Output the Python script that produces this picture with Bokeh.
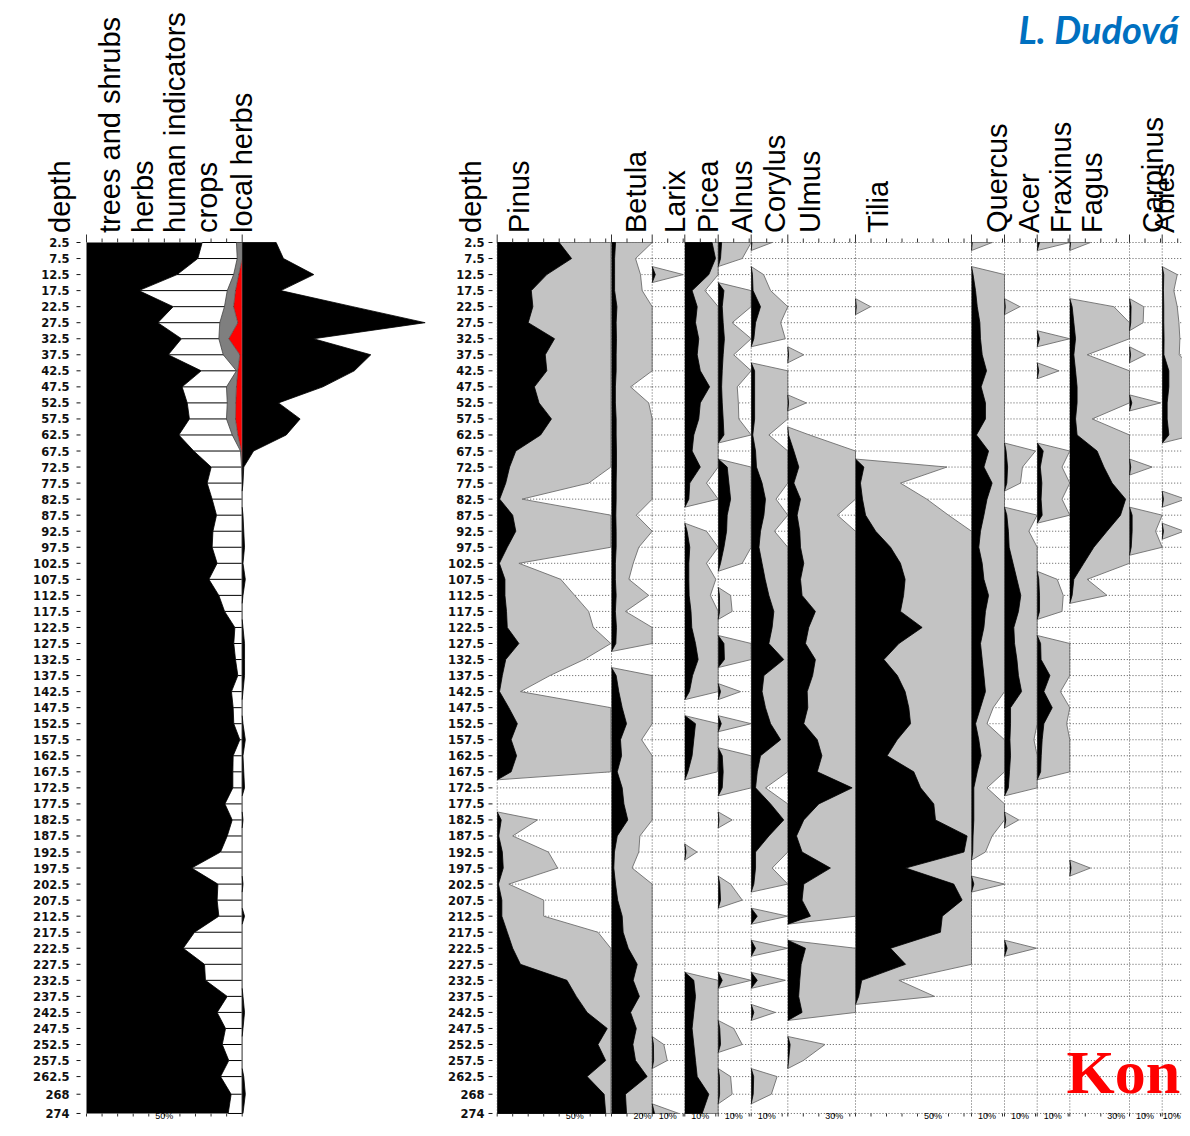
import math
import numpy as np
from bokeh.plotting import figure
from bokeh.models import Range1d
from bokeh.core.properties import value
from bokeh.embed import file_html
from bokeh.resources import INLINE

# ---------------------------------------------------------------- data
DEPTHS = [2.5, 7.5, 12.5, 17.5, 22.5, 27.5, 32.5, 37.5, 42.5, 47.5,
          52.5, 57.5, 62.5, 67.5, 72.5, 77.5, 82.5, 87.5, 92.5, 97.5,
          102.5, 107.5, 112.5, 117.5, 122.5, 127.5, 132.5, 137.5, 142.5, 147.5,
          152.5, 157.5, 162.5, 167.5, 172.5, 177.5, 182.5, 187.5, 192.5, 197.5,
          202.5, 207.5, 212.5, 217.5, 222.5, 227.5, 232.5, 237.5, 242.5, 247.5,
          252.5, 257.5, 262.5, 268, 274]
DEPTH_LABELS = ["2.5", "7.5", "12.5", "17.5", "22.5", "27.5", "32.5", "37.5", "42.5", "47.5",
                "52.5", "57.5", "62.5", "67.5", "72.5", "77.5", "82.5", "87.5", "92.5", "97.5",
                "102.5", "107.5", "112.5", "117.5", "122.5", "127.5", "132.5", "137.5", "142.5", "147.5",
                "152.5", "157.5", "162.5", "167.5", "172.5", "177.5", "182.5", "187.5", "192.5", "197.5",
                "202.5", "207.5", "212.5", "217.5", "222.5", "227.5", "232.5", "237.5", "242.5", "247.5",
                "252.5", "257.5", "262.5", "268", "274"]

# summary diagram (% of pollen sum)
TREES = [74.3, 71.5, 58.2, 33.6, 55.7, 45.8, 61.0, 52.5, 73.7, 61.4,
         64.7, 66.1, 59.3, 68.9, 80.1, 77.5, 80.7, 83.5, 81.2, 80.7,
         83.9, 78.6, 85.0, 88.7, 95.3, 94.6, 95.7, 97.2, 93.1, 94.2,
         94.6, 98.5, 94.2, 94.0, 94.0, 88.9, 93.6, 90.4, 86.1, 67.5,
         84.4, 83.9, 85.0, 69.4, 62.1, 75.8, 76.4, 90.4, 83.9, 89.3,
         87.2, 91.4, 86.1, 92.9, 91.0]
HERBS = [22.0, 25.3, 36.3, 56.8, 32.9, 39.8, 24.0, 35.3, 22.6, 28.5,
         25.7, 23.8, 34.3, 30.0, 19.5, 22.5, 19.3, 16.5, 18.8, 19.3,
         16.1, 21.4, 15.0, 11.3, 4.7, 5.4, 4.3, 2.8, 6.9, 5.8,
         5.4, 1.5, 5.8, 6.0, 6.0, 11.1, 6.4, 9.6, 13.9, 32.5,
         15.6, 16.1, 15.0, 30.6, 37.9, 24.2, 23.6, 9.6, 16.1, 10.7,
         12.8, 8.6, 13.9, 7.1, 9.0]
HUMAN = [3.7, 3.2, 3.3, 5.3, 5.9, 11.6, 6.4, 10.7, 0.9, 6.4,
         5.5, 5.8, 3.6, 0.5, 0.2, 0, 0, 0, 0, 0,
         0, 0, 0, 0, 0, 0, 0, 0, 0, 0,
         0, 0, 0, 0, 0, 0, 0, 0, 0, 0,
         0, 0, 0, 0, 0, 0, 0, 0, 0, 0,
         0, 0, 0, 0, 0]
CROPS = [0, 0, 2.2, 4.3, 5.5, 2.8, 8.6, 1.5, 2.8, 3.7,
         4.1, 4.3, 2.8, 0.6, 0.2, 0, 0, 0, 0, 0,
         0, 0, 0, 0, 0, 0, 0, 0, 0, 0,
         0, 0, 0, 0, 0, 0, 0, 0, 0, 0,
         0, 0, 0, 0, 0, 0, 0, 0, 0, 0,
         0, 0, 0, 0, 0]
LOCAL = [21.8, 26.5, 46, 24.8, 71, 117.5, 45.8, 82.6, 72, 51.8,
         23.3, 37.2, 28.3, 7.3, 1, 0.5, 0, 0.5, 1, 1.5,
         0.5, 2, 0.5, 0, 0.5, 1.5, 1.5, 1.5, 0.5, 0,
         0.5, 2, 0.5, 1, 1.5, 0, 0.5, 0, 0, 0,
         0.5, 0, 1.5, 0, 0, 0, 0, 0.5, 1.5, 0.5,
         0, 0, 1, 2, 0.5]

# taxa: B = percentage (black), G = exaggerated curve (grey); 99 = beyond the panel
PINUS_B = [40, 48, 32, 22, 23, 20, 37, 31, 32, 24,
           27, 35, 28, 12, 8, 5.5, 1.6, 10, 12, 6.5,
           1.4, 5, 5, 6, 6.5, 14, 5.5, 3.3, 1.5, 7.5,
           13, 9, 12.5, 9, 0, 0, 2.6, 1.0, 3.3, 3.9,
           0.8, 3, 3, 6.5, 10, 15, 45, 51, 58, 71,
           65, 70, 58, 69, 70]
PINUS_G = [99, 99, 99, 99, 99, 99, 99, 99, 99, 99,
           99, 99, 99, 99, 99, 59, 16, 99, 99, 99,
           14, 41, 50, 59, 62, 99, 56, 34, 15, 99,
           99, 99, 99, 99, 0, 0, 26, 10, 33, 39,
           7.5, 30, 30, 65, 99, 99, 99, 99, 99, 99,
           99, 99, 99, 99, 99]
BETULA_B = [2.6, 2, 2, 2, 3.5, 3, 3.2, 3, 3, 2.5,
            2.5, 3, 3, 3.2, 3.2, 3, 3, 2.8, 3, 3,
            2.5, 2.5, 3, 2.5, 3.2, 2.8, 0, 3, 4.7, 6.9,
            9.7, 5.8, 6.5, 3.7, 6.9, 8, 10.5, 3.7, 1.9, 1.5,
            2.6, 4, 6.9, 7.5, 10.8, 16.6, 14, 18, 12.3, 16,
            13.8, 15.5, 23, 9, 9.7]
BETULA_G = [99, 15.5, 18.7, 19.8, 99, 99, 99, 99, 99, 12.3,
            24, 99, 99, 99, 99, 99, 99, 16, 99, 17.6,
            14, 11.2, 24, 9, 99, 99, 0, 99, 99, 99,
            99, 19.4, 99, 99, 99, 99, 99, 18.3, 17.6, 13.3,
            99, 99, 99, 99, 99, 99, 99, 99, 99, 99,
            99, 99, 99, 99, 99]
LARIX_B = [0, 0, 2, 0, 0, 0, 0, 0, 0, 0,
           0, 0, 0, 0, 0, 0, 0, 0, 0, 0,
           0, 0, 0, 0, 0, 0, 0, 0, 0, 0,
           0, 0, 0, 0, 0, 0, 0, 0, 0, 0,
           0, 0, 0, 0, 0, 0, 0, 0, 0, 0,
           0.8, 0.9, 0, 0, 1.5]
LARIX_G = [0, 0, 20, 0, 0, 0, 0, 0, 0, 0,
           0, 0, 0, 0, 0, 0, 0, 0, 0, 0,
           0, 0, 0, 0, 0, 0, 0, 0, 0, 0,
           0, 0, 0, 0, 0, 0, 0, 0, 0, 0,
           0, 0, 0, 0, 0, 0, 0, 0, 0, 0,
           7.5, 9.7, 0, 0, 17.2]
PICEA_B = [17.6, 19.8, 15.5, 4.7, 8, 6.9, 9, 8, 10, 16,
           10, 9, 5.8, 4.7, 10, 3.2, 2.6, 0, 1.5, 3.2,
           2.6, 2.6, 2.8, 4, 4.5, 6.9, 8.6, 5, 3, 0,
           6.9, 5.8, 4.7, 2, 0, 0, 0, 0, 0.8, 0,
           0, 0, 0, 0, 0, 0, 5.8, 6.9, 5.8, 4.7,
           5.8, 6.9, 8, 15.5, 11.2]
PICEA_G = [99, 99, 99, 13, 99, 99, 99, 99, 99, 99,
           99, 99, 99, 99, 99, 14, 99, 0, 14, 99,
           14, 20, 16.5, 99, 99, 99, 99, 99, 99, 0,
           99, 99, 99, 21, 0, 0, 0, 0, 7.9, 0,
           0, 0, 0, 0, 0, 0, 99, 99, 99, 99,
           99, 99, 99, 99, 99]
ALNUS_B = [2.2, 1.5, 0, 3.7, 2.6, 3.2, 4, 3.2, 2.6, 2.2,
           2.6, 3.2, 3.7, 0, 5.8, 6.9, 8, 5.8, 5.4, 3.7,
           1.5, 0, 0.8, 0.9, 0, 3.7, 4, 0, 1.5, 0,
           2, 0, 2.6, 3.2, 2.6, 0, 0.5, 0, 0, 0,
           1, 1.5, 0, 0, 0, 0, 2.6, 0, 0, 1,
           1.5, 0, 0.8, 0.9, 0]
ALNUS_G = [99, 15.5, 0, 99, 99, 9, 99, 10, 99, 12.3,
           13, 13.3, 99, 0, 99, 99, 99, 99, 99, 99,
           15.5, 0, 8, 9, 0, 99, 99, 0, 14.4, 0,
           99, 0, 99, 99, 99, 0, 9, 0, 0, 0,
           8, 15.5, 0, 0, 0, 0, 99, 0, 0, 10,
           15.5, 0, 8, 9, 0]
CORYLUS_B = [0.5, 0, 0.8, 1.2, 6, 2.8, 1.7, 0, 2.2, 2.2,
             2.2, 2.2, 1, 2.8, 3.4, 7, 9.2, 8.2, 6, 5,
             7, 9, 11.4, 14.6, 13.5, 11.4, 21, 8.2, 7, 9.2,
             12.5, 19, 6, 3.9, 2.8, 12.5, 21, 11.4, 2.8, 2.8,
             1.7, 0, 3.9, 0, 2.8, 0, 3.9, 0, 1.7, 0,
             0, 0, 1.6, 1.3, 0]
CORYLUS_G = [13.5, 0, 8, 12.5, 99, 19, 22, 0, 99, 99,
             99, 99, 11.4, 99, 99, 99, 16, 99, 15, 99,
             99, 99, 99, 99, 99, 99, 99, 99, 99, 99,
             99, 99, 99, 99, 9.2, 99, 99, 99, 99, 13.5,
             99, 0, 99, 0, 99, 0, 22, 0, 15.5, 0,
             0, 0, 16.7, 13, 0]
ULMUS_B = [0, 0, 0, 0, 0, 0, 0, 0.5, 0, 0,
           0.5, 0, 0.5, 3.9, 7.1, 3.9, 8.2, 6, 7.7, 8.2,
           10.3, 8.2, 9.2, 17.8, 13.5, 11.4, 17.8, 16, 12.5, 12.9,
           10.3, 19, 22, 19, 41.5, 20, 10.3, 5.6, 9.2, 27.5,
           10.3, 9.2, 14.6, 0, 11.4, 8.6, 7.7, 7, 9.2, 0,
           1.5, 0.5, 0, 0, 0]
ULMUS_G = [0, 0, 0, 0, 0, 0, 0, 10.3, 0, 0,
           12, 0, 14, 99, 99, 99, 99, 32, 99, 99,
           99, 99, 99, 99, 99, 99, 99, 99, 99, 99,
           99, 99, 99, 99, 99, 99, 99, 99, 99, 99,
           99, 99, 99, 0, 99, 99, 99, 99, 99, 0,
           24, 10, 0, 0, 0]
TILIA_B = [0, 0, 0, 0, 0.5, 0, 0, 0, 0, 0,
           0, 0, 0, 0, 5.4, 3.2, 4.5, 6.5, 13, 22.6,
           29, 32, 31, 29, 43, 28, 18.3, 27, 32, 34.4,
           35.5, 26.9, 20.4, 37.6, 42, 50.5, 51.6, 72, 70, 32.3,
           63.4, 68.8, 56, 54.8, 22.6, 32.3, 4, 2, 0, 0,
           0, 0, 0, 0, 0]
TILIA_G = [0, 0, 0, 0, 9.7, 0, 0, 0, 0, 0,
           0, 0, 0, 0, 59, 29, 46, 60, 99, 99,
           99, 99, 99, 99, 99, 99, 99, 99, 99, 99,
           99, 99, 99, 99, 99, 99, 99, 99, 99, 99,
           99, 99, 99, 99, 99, 99, 28, 51, 0, 0,
           0, 0, 0, 0, 0]
QUERCUS_B = [0.5, 0, 1, 2.6, 3.7, 5.4, 5.8, 6.9, 9.7, 6.2,
             9, 9, 3.2, 11, 8, 13.3, 10, 8, 5.8, 4.7,
             6.9, 8, 11, 9, 8, 5.8, 6.9, 8, 9, 5.8,
             2.6, 4.7, 6.2, 3.7, 1.5, 1.5, 1.5, 1, 0.8, 0,
             1.5, 0, 0, 0, 0, 0, 0, 0, 0, 0,
             0, 0, 0, 0, 0]
QUERCUS_G = [13.3, 0, 99, 99, 99, 99, 99, 99, 99, 99,
             99, 99, 99, 99, 99, 99, 99, 99, 99, 99,
             99, 99, 99, 99, 99, 99, 99, 99, 99, 14,
             10, 99, 99, 99, 10, 99, 99, 13.3, 9, 0,
             99, 0, 0, 0, 0, 0, 0, 0, 0, 0,
             0, 0, 0, 0, 0]
ACER_B = [0, 0, 0, 0, 0.5, 0, 0, 0, 0, 0,
          0, 0, 0, 1, 2, 1.5, 0, 1.5, 2.5, 3,
          5.5, 8, 10.5, 9, 6, 6.5, 8, 9, 11, 3.9,
          3.9, 3.5, 3.9, 3.2, 2.5, 0, 0.8, 0, 0, 0,
          0, 0, 0, 0, 1.7, 0, 0, 0, 0, 0,
          0, 0, 0, 0, 0]
ACER_G = [0, 0, 0, 0, 9.9, 0, 0, 0, 0, 0,
          0, 0, 0, 20, 11.6, 10.3, 0, 99, 15.7, 99,
          99, 99, 99, 99, 99, 99, 99, 99, 99, 99,
          99, 19, 99, 99, 99, 0, 9.2, 0, 0, 0,
          0, 0, 0, 0, 20.6, 0, 0, 0, 0, 0,
          0, 0, 0, 0, 0]
FRAXINUS_B = [1.5, 0, 0, 0, 0, 0, 1.5, 0, 1, 0,
              0, 0, 0, 3.9, 2, 3, 2.5, 3.2, 0, 0,
              0, 1, 1.5, 1.5, 0, 2.2, 2.5, 8.2, 4.3, 9.7,
              4.3, 3.2, 2.6, 2.2, 0, 0, 0, 0, 0, 0,
              0, 0, 0, 0, 0, 0, 0, 0, 0, 0,
              0, 0, 0, 0, 0]
FRAXINUS_G = [99, 0, 0, 0, 0, 0, 99, 0, 14, 0,
              0, 0, 0, 99, 16, 99, 16, 99, 0, 0,
              0, 12.9, 16.8, 16, 0, 99, 99, 99, 15, 99,
              19, 99, 99, 99, 0, 0, 0, 0, 0, 0,
              0, 0, 0, 0, 0, 0, 0, 0, 0, 0,
              0, 0, 0, 0, 0]
FAGUS_B = [0.5, 0, 0, 0, 1.5, 2.6, 3.7, 2.6, 3.7, 4.7,
           4.7, 3.7, 4.7, 17.6, 22, 27.3, 36, 32.7, 24, 15.5,
           9, 2.6, 1.5, 0, 0, 0, 0, 0, 0, 0,
           0, 0, 0, 0, 0, 0, 0, 0, 0, 0.8,
           0, 0, 0, 0, 0, 0, 0, 0, 0, 0,
           0, 0, 0, 0, 0]
FAGUS_G = [13.3, 0, 0, 0, 28.4, 99, 99, 11.2, 99, 99,
           99, 14.4, 99, 99, 99, 99, 99, 99, 99, 99,
           99, 11.2, 24, 0, 0, 0, 0, 0, 0, 0,
           0, 0, 0, 0, 0, 0, 0, 0, 0, 13.3,
           0, 0, 0, 0, 0, 0, 0, 0, 0, 0,
           0, 0, 0, 0, 0]
CARPINUS_B = [0, 0, 0, 0, 1, 0.8, 0, 0.7, 0, 0,
              1.5, 0, 0, 0, 0.8, 0, 0, 1.7, 1.7, 1.1,
              0, 0, 0, 0, 0, 0, 0, 0, 0, 0,
              0, 0, 0, 0, 0, 0, 0, 0, 0, 0,
              0, 0, 0, 0, 0, 0, 0, 0, 0, 0,
              0, 0, 0, 0, 0]
CARPINUS_G = [0, 0, 0, 0, 9.2, 8.8, 0, 10.3, 0, 0,
              20, 0, 0, 0, 14.6, 0, 0, 99, 16.8, 99,
              0, 0, 0, 0, 0, 0, 0, 0, 0, 0,
              0, 0, 0, 0, 0, 0, 0, 0, 0, 0,
              0, 0, 0, 0, 0, 0, 0, 0, 0, 0,
              0, 0, 0, 0, 0]
ABIES_B = [0, 0, 1, 0.8, 1, 1, 1.2, 1.1, 4.3, 4.3,
           3.2, 3.2, 4.3, 0, 0, 0, 0.8, 0, 0.8, 0,
           0, 0, 0, 0, 0, 0, 0, 0, 0, 0,
           0, 0, 0, 0, 0, 0, 0, 0, 0, 0,
           0, 0, 0, 0, 0, 0, 0, 0, 0, 0,
           0, 0, 0, 0, 0]
ABIES_G = [0, 0, 9.7, 7.5, 9.7, 10.8, 11.4, 11, 99, 99,
           99, 99, 99, 0, 0, 0, 15, 0, 14, 0,
           0, 0, 0, 0, 0, 0, 0, 0, 0, 0,
           0, 0, 0, 0, 0, 0, 0, 0, 0, 0,
           0, 0, 0, 0, 0, 0, 0, 0, 0, 0,
           0, 0, 0, 0, 0]

TAXA = ["Pinus", "Betula", "Larix", "Picea", "Alnus", "Corylus", "Ulmus", "Tilia",
        "Quercus", "Acer", "Fraxinus", "Fagus", "Carpinus", "Abies"]
SCALE_LABEL = [50, 20, 10, 10, 10, 10, 30, 50, 10, 10, 10, 30, 10, 10]
SUMMARY_HEADERS = ["depth", "trees and shrubs", "herbs", "human indicators", "crops", "local herbs"]

SERIES = {
    "Pinus": (PINUS_B, PINUS_G), "Betula": (BETULA_B, BETULA_G),
    "Larix": (LARIX_B, LARIX_G), "Picea": (PICEA_B, PICEA_G),
    "Alnus": (ALNUS_B, ALNUS_G), "Corylus": (CORYLUS_B, CORYLUS_G),
    "Ulmus": (ULMUS_B, ULMUS_G), "Tilia": (TILIA_B, TILIA_G),
    "Quercus": (QUERCUS_B, QUERCUS_G), "Acer": (ACER_B, ACER_G),
    "Fraxinus": (FRAXINUS_B, FRAXINUS_G), "Fagus": (FAGUS_B, FAGUS_G),
    "Carpinus": (CARPINUS_B, CARPINUS_G), "Abies": (ABIES_B, ABIES_G),
}

# ---------------------------------------------------------------- layout (screen px)
PX_L, PX_R = 0, 1182
PY_T, PY_B = 0, 1120
DEPTH_PX = 3.208              # px per cm of depth
K_RIGHT = 1.55                # px per percent, taxa panels
K_SUM = 1.557                 # px per percent, summary panel
SUM_X0, LOCAL_X0 = 86.0, 241.7
PANEL_X = {"Pinus": (496.7, 610.3), "Betula": (611.0, 651.7), "Larix": (651.7, 684.3),
           "Picea": (684.3, 717.7), "Alnus": (717.7, 750.7), "Corylus": (750.7, 787.3),
           "Ulmus": (787.3, 855.0), "Tilia": (855.0, 971.0), "Quercus": (971.0, 1004.0),
           "Acer": (1004.0, 1036.7), "Fraxinus": (1036.7, 1069.3), "Fagus": (1069.3, 1129.0),
           "Carpinus": (1129.0, 1161.7), "Abies": (1161.7, 1194.0)}
HEADER_X_RIGHT = {"Pinus": 518.4, "Betula": 635.6, "Larix": 674.0, "Picea": 707.4,
                  "Alnus": 741.0, "Corylus": 774.4, "Ulmus": 809.3, "Tilia": 877.3,
                  "Quercus": 996.0, "Acer": 1028.0, "Fraxinus": 1060.0, "Fagus": 1091.6,
                  "Carpinus": 1152.4}
HEADER_X_LEFT = [59.3, 109.3, 142.7, 174.3, 206.7, 241.0]
LABEL_SHIFT = {"Abies": -6.0}   # keep the last scale label inside the page


def dep(py):
    return DEPTHS[0] + (py - 242.0) / DEPTH_PX


def profile(vals):
    ys, xa, xl = [], [], []
    n = len(vals)
    if vals[0] > 0:
        ys.append(DEPTHS[0]); xa.append(0.0); xl.append(0.0)
    for i, v in enumerate(vals):
        d = DEPTHS[i]
        if v > 0:
            ys.append(d); xa.append(float(v)); xl.append(float(v))
        else:
            if i > 0 and vals[i - 1] > 0:
                m = 0.5 * (DEPTHS[i - 1] + d)
                ys.append(m); xa.append(0.0); xl.append(0.0)
            ys.append(d); xa.append(0.0); xl.append(np.nan)
            if i < n - 1 and vals[i + 1] > 0:
                m = 0.5 * (d + DEPTHS[i + 1])
                ys.append(m); xa.append(0.0); xl.append(0.0)
    if vals[-1] > 0:
        ys.append(DEPTHS[-1]); xa.append(0.0); xl.append(0.0)
    return ys, np.array(xa), np.array(xl)


p = figure(width=PX_R - PX_L, height=PY_B - PY_T,
           x_range=Range1d(PX_L, PX_R), y_range=Range1d(dep(PY_B), dep(PY_T)),
           output_backend="svg", toolbar_location=None, min_border=0,
           x_axis_location=None, y_axis_location=None, title=None)
p.outline_line_color = None
p.background_fill_color = "white"
p.border_fill_color = "white"
p.grid.visible = False

p.extra_x_ranges["sum"] = Range1d((PX_L - SUM_X0) / K_SUM, (PX_R - SUM_X0) / K_SUM)
p.extra_x_ranges["local"] = Range1d((PX_L - LOCAL_X0) / K_SUM, (PX_R - LOCAL_X0) / K_SUM)

SANS = value("Liberation Sans")
N = len(DEPTHS)
y_top_short, y_top_long, y_top = dep(238), dep(234), DEPTHS[0]
y_bot, y_bot_tick = DEPTHS[-1], dep(1116)
y_pct = dep(1120)

# ---------------------------------------------------------------- taxa panels
for name, lab in zip(TAXA, SCALE_LABEL):
    x0, x1 = PANEL_X[name]
    pmax = (x1 - x0) / K_RIGHT
    p.extra_x_ranges[name] = Range1d((PX_L - x0) / K_RIGHT, (PX_R - x0) / K_RIGHT)
    # dotted sample lines and zero line
    p.segment(x0=[0] * N, x1=[pmax] * N, y0=DEPTHS, y1=DEPTHS, x_range_name=name,
              line_color="#5a5a5a", line_dash="1 2", line_width=1)
    p.segment(x0=[0], x1=[0], y0=[DEPTHS[0]], y1=[DEPTHS[-1]], x_range_name=name,
              line_color="#5a5a5a", line_dash="1 2", line_width=1)
    black, grey = SERIES[name]
    ys, xa, xl = profile(grey)
    p.harea(x1=np.zeros(len(ys)), x2=np.minimum(xa, pmax), y=ys, x_range_name=name,
            fill_color="#c3c3c3")
    p.line(x=np.minimum(xl, pmax), y=ys, x_range_name=name, line_color="#6e6e6e", line_width=0.9)
    ys, xa, xl = profile(black)
    p.harea(x1=np.zeros(len(ys)), x2=np.minimum(xa, pmax), y=ys, x_range_name=name,
            fill_color="black")
    p.line(x=np.minimum(xl, pmax), y=ys, x_range_name=name, line_color="black", line_width=0.8)
    # scale ticks
    ticks = list(np.arange(0, pmax + 0.01, 10))
    p.segment(x0=ticks, x1=ticks, y0=[y_top_long] + [y_top_short] * (len(ticks) - 1),
              y1=[y_top] * len(ticks), x_range_name=name, line_color="#333333", line_width=1)
    p.segment(x0=ticks, x1=ticks, y0=[y_bot] * len(ticks), y1=[y_bot_tick] * len(ticks),
              x_range_name=name, line_color="#333333", line_width=1)
    p.text(x=[lab], y=[y_pct], text=["%d%%" % lab], x_range_name=name,
           x_offset=LABEL_SHIFT.get(name, 0.0),
           text_font=SANS, text_font_size=value("9px"), text_align="center",
           text_baseline="bottom", text_color="black")

# ---------------------------------------------------------------- summary panel
trees = np.array(TREES, float)
c1 = trees + np.array(HERBS, float)
c2 = c1 + np.array(HUMAN, float)
c3 = c2 + np.array(CROPS, float)
p.segment(x0=TREES, x1=[100] * N, y0=DEPTHS, y1=DEPTHS, x_range_name="sum",
          line_color="black", line_width=1)
p.harea(x1=np.zeros(N), x2=trees, y=DEPTHS, x_range_name="sum", fill_color="black")
p.line(x=trees, y=DEPTHS, x_range_name="sum", line_color="black", line_width=0.8)
p.harea(x1=c1, x2=c2, y=DEPTHS, x_range_name="sum", fill_color="#7f7f7f")
p.harea(x1=c2, x2=c3, y=DEPTHS, x_range_name="sum", fill_color="#ff0000")
p.line(x=c1, y=DEPTHS, x_range_name="sum", line_color="#444444", line_width=0.8)
p.line(x=c2, y=DEPTHS, x_range_name="sum", line_color="#444444", line_width=0.6)
p.segment(x0=[100], x1=[100], y0=[DEPTHS[0]], y1=[DEPTHS[-1]], x_range_name="sum",
          line_color="#8a8a8a", line_width=1)
ys, xa, xl = profile(LOCAL)
p.harea(x1=np.zeros(len(ys)), x2=xa, y=ys, x_range_name="local", fill_color="black")
p.line(x=xl, y=ys, x_range_name="local", line_color="black", line_width=0.8)
sticks = list(np.arange(0, 100.01, 10))
p.segment(x0=sticks, x1=sticks,
          y0=[y_top_long if t in (0, 100) else y_top_short for t in sticks],
          y1=[y_top] * len(sticks), x_range_name="sum", line_color="#333333", line_width=1)
p.segment(x0=sticks, x1=sticks, y0=[y_bot] * len(sticks), y1=[y_bot_tick] * len(sticks),
          x_range_name="sum", line_color="#333333", line_width=1)
p.text(x=[50], y=[y_pct], text=["50%"], x_range_name="sum", text_font=SANS,
       text_font_size=value("9px"), text_align="center", text_baseline="bottom")

# ---------------------------------------------------------------- depth axes
for lab_x, t0, t1 in ((69.0, 76.0, 80.0), (484.0, 488.0, 492.0)):
    p.text(x=[lab_x] * N, y=DEPTHS, text=DEPTH_LABELS, text_font=value("DejaVu Sans"),
           text_font_style="bold", text_font_size=value("11.5px"), text_align="right",
           text_baseline="middle", text_color="#111111")
    p.segment(x0=[t0] * N, x1=[t1] * N, y0=DEPTHS, y1=DEPTHS, line_color="#111111", line_width=1)

# ---------------------------------------------------------------- headers
y_head = dep(232.5)
p.text(x=HEADER_X_LEFT, y=[y_head] * len(SUMMARY_HEADERS), text=SUMMARY_HEADERS,
       angle=math.pi / 2, text_font=SANS, text_font_size=value("29px"),
       text_align="left", text_baseline="alphabetic", text_color="black")
p.text(x=[470.6] + [HEADER_X_RIGHT[t] for t in TAXA[:-1]], y=[y_head] * len(TAXA),
       text=["depth"] + TAXA[:-1], angle=math.pi / 2, text_font=SANS,
       text_font_size=value("29px"), text_align="left", text_baseline="alphabetic",
       text_color="black")
# last header: anchored on its middle so that it stays inside the page
p.text(x=[1164.3], y=[y_head], text=[TAXA[-1]], angle=math.pi / 2, text_font=SANS,
       text_font_size=value("28px"), text_align="left", text_baseline="middle",
       text_color="black")

# ---------------------------------------------------------------- slide texts
p.text(x=[1018], y=[dep(28)], text=["L. Dudová"], text_font=value("Lato"),
       text_font_style="bold italic", text_font_size=value("38px"), text_color="#0070c0",
       text_align="left", text_baseline="alphabetic")
p.text(x=[1066], y=[dep(1071)], text=["Kon"], text_font=value("Liberation Serif"),
       text_font_style="bold", text_font_size=value("62px"), text_color="#ff0000",
       text_align="left", text_baseline="middle")

open("out.html", "w").write(file_html(p, INLINE))
